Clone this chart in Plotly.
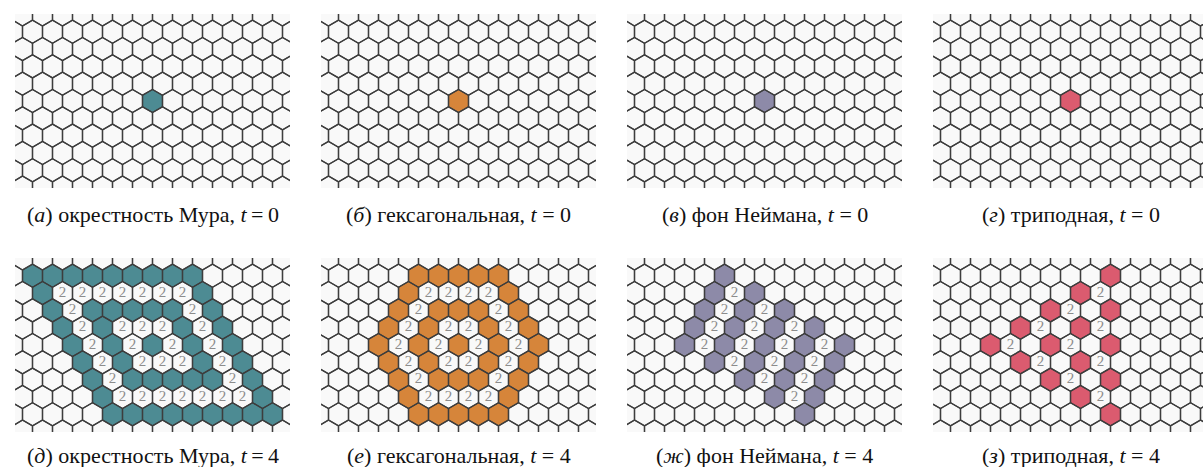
import numpy as np
import plotly.graph_objects as go

# ---- cell states, as (q, r): q = doubled column index, r = row (up is positive) ----
seed_cell = [(0, 0)]

moore_live = [
    (-12, 4), (-10, 4), (-8, 4), (-6, 4), (-4, 4), (-2, 4), (0, 4), (2, 4), (4, 4),
    (-11, 3), (5, 3),
    (-10, 2), (-6, 2), (-4, 2), (-2, 2), (0, 2), (2, 2), (6, 2),
    (-9, 1), (-5, 1), (3, 1), (7, 1),
    (-8, 0), (-4, 0), (0, 0), (4, 0), (8, 0),
    (-7, -1), (-3, -1), (5, -1), (9, -1),
    (-6, -2), (-2, -2), (0, -2), (2, -2), (4, -2), (6, -2), (10, -2),
    (-5, -3), (11, -3),
    (-4, -4), (-2, -4), (0, -4), (2, -4), (4, -4), (6, -4), (8, -4), (10, -4), (12, -4),
]
moore_two = [
    (-9, 3), (-7, 3), (-5, 3), (-3, 3), (-1, 3), (1, 3), (3, 3),
    (-8, 2), (4, 2),
    (-7, 1), (-3, 1), (-1, 1), (1, 1), (5, 1),
    (-6, 0), (-2, 0), (2, 0), (6, 0),
    (-5, -1), (-1, -1), (1, -1), (3, -1), (7, -1),
    (-4, -2), (8, -2),
    (-3, -3), (-1, -3), (1, -3), (3, -3), (5, -3), (7, -3), (9, -3),
]

hex_live = [
    (-4, 4), (-2, 4), (0, 4), (2, 4), (4, 4),
    (-5, 3), (5, 3),
    (-6, 2), (-2, 2), (0, 2), (2, 2), (6, 2),
    (-7, 1), (-3, 1), (3, 1), (7, 1),
    (-8, 0), (-4, 0), (0, 0), (4, 0), (8, 0),
    (-7, -1), (-3, -1), (3, -1), (7, -1),
    (-6, -2), (-2, -2), (0, -2), (2, -2), (6, -2),
    (-5, -3), (5, -3),
    (-4, -4), (-2, -4), (0, -4), (2, -4), (4, -4),
]
hex_two = [
    (-3, 3), (-1, 3), (1, 3), (3, 3),
    (-4, 2), (4, 2),
    (-5, 1), (-1, 1), (1, 1), (5, 1),
    (-6, 0), (-2, 0), (2, 0), (6, 0),
    (-5, -1), (-1, -1), (1, -1), (5, -1),
    (-4, -2), (4, -2),
    (-3, -3), (-1, -3), (1, -3), (3, -3),
]

neumann_live = [
    (-4, 4),
    (-5, 3), (-1, 3),
    (-6, 2), (-2, 2), (2, 2),
    (-7, 1), (-3, 1), (1, 1), (5, 1),
    (-8, 0), (-4, 0), (0, 0), (4, 0), (8, 0),
    (-5, -1), (-1, -1), (3, -1), (7, -1),
    (-2, -2), (2, -2), (6, -2),
    (1, -3), (5, -3),
    (4, -4),
]
neumann_two = [
    (-3, 3),
    (-4, 2), (0, 2),
    (-5, 1), (-1, 1), (3, 1),
    (-6, 0), (-2, 0), (2, 0), (6, 0),
    (-3, -1), (1, -1), (5, -1),
    (0, -2), (4, -2),
    (3, -3),
]

tripod_live = [
    (4, 4),
    (1, 3),
    (-2, 2), (4, 2),
    (-5, 1), (1, 1),
    (-8, 0), (-2, 0), (4, 0),
    (-5, -1), (1, -1),
    (-2, -2), (4, -2),
    (1, -3),
    (4, -4),
]
tripod_two = [
    (3, 3),
    (0, 2),
    (-3, 1), (3, 1),
    (-6, 0), (0, 0),
    (-3, -1), (3, -1),
    (0, -2),
    (3, -3),
]

captions_top = [
    "(<i>а</i>) окрестность Мура, <i>t</i>\u2009=\u20090",
    "(<i>б</i>) гексагональная, <i>t</i> = 0",
    "(<i>в</i>) фон Неймана, <i>t</i> = 0",
    "(<i>г</i>) триподная, <i>t</i> = 0",
]
captions_bottom = [
    "(<i>д</i>) окрестность Мура, <i>t</i>\u2009=\u20094",
    "(<i>е</i>) гексагональная, <i>t</i> = 4",
    "(<i>ж</i>) фон Неймана, <i>t</i> = 4",
    "(<i>з</i>) триподная, <i>t</i> = 4",
]
colors = ["#4d8b93", "#d6853a", "#8d8aa8", "#db5b6f"]

# ---- geometry ----
SQ3 = np.sqrt(3.0)
ROWS = range(-5, 6)
QMAX = 15
W, H = 1203, 467
PX = 20 / SQ3            # pixels per unit hex radius
PANEL_W, PANEL_H = 275, 174
LEFTS = [15, 321, 627, 933]
TOPS = [14, 258]
CAP_Y = [215, 455]


def centre(q, r):
    return q * SQ3 / 2, 1.5 * r


def hex_paths(cells):
    xs, ys = [], []
    ang = np.radians(np.arange(30, 391, 60))
    for q, r in cells:
        cx, cy = centre(q, r)
        xs.extend(list(cx + np.cos(ang)) + [None])
        ys.extend(list(cy + np.sin(ang)) + [None])
    return xs, ys


grid_cells = [(q, r) for r in ROWS for q in range(-QMAX, QMAX + 1) if (q - r) % 2 == 0]
gx, gy = hex_paths(grid_cells)

panels = [
    (0, 0, seed_cell, []), (0, 1, seed_cell, []), (0, 2, seed_cell, []), (0, 3, seed_cell, []),
    (1, 0, moore_live, moore_two), (1, 1, hex_live, hex_two),
    (1, 2, neumann_live, neumann_two), (1, 3, tripod_live, tripod_two),
]

fig = go.Figure()
layout = {}
annotations = []
for i, (row, col, live, two) in enumerate(panels, start=1):
    left = LEFTS[col]
    right = min(left + PANEL_W, W)
    top = TOPS[row]
    bottom = top + PANEL_H
    xa, ya = f"x{i}", f"y{i}"
    half_w = PANEL_W / 2 / PX
    layout[f"xaxis{i}"] = dict(domain=[left / W, right / W], anchor=ya,
                               range=[-half_w, -half_w + (right - left) / PX],
                               visible=False, fixedrange=True)
    layout[f"yaxis{i}"] = dict(domain=[1 - bottom / H, 1 - top / H], anchor=xa,
                               range=[-PANEL_H / 2 / PX, PANEL_H / 2 / PX],
                               visible=False, fixedrange=True)
    # light cell background
    bx = [-half_w, -half_w + (right - left) / PX, -half_w + (right - left) / PX, -half_w, -half_w]
    by = [-PANEL_H / 2 / PX, -PANEL_H / 2 / PX, PANEL_H / 2 / PX, PANEL_H / 2 / PX, -PANEL_H / 2 / PX]
    fig.add_trace(go.Scatter(x=bx, y=by, xaxis=xa, yaxis=ya, mode="lines", fill="toself",
                             fillcolor="#f9f9f9", line=dict(width=0), hoverinfo="skip",
                             showlegend=False))
    lx, ly = hex_paths(live)
    fig.add_trace(go.Scatter(x=lx, y=ly, xaxis=xa, yaxis=ya, mode="lines", fill="toself",
                             fillcolor=colors[col], line=dict(width=0), hoverinfo="skip",
                             showlegend=False))
    fig.add_trace(go.Scatter(x=gx, y=gy, xaxis=xa, yaxis=ya, mode="lines",
                             line=dict(color="#3d3d3d", width=1.3), hoverinfo="skip",
                             showlegend=False))
    if two:
        tx = [centre(q, r)[0] for q, r in two]
        ty = [centre(q, r)[1] for q, r in two]
        fig.add_trace(go.Scatter(x=tx, y=ty, xaxis=xa, yaxis=ya, mode="text",
                                 text=["2"] * len(two),
                                 textfont=dict(family="Liberation Serif", size=15, color="#8c8c8c"),
                                 hoverinfo="skip", showlegend=False, cliponaxis=True))
    cap = (captions_top if row == 0 else captions_bottom)[col]
    annotations.append(dict(text=cap, xref="paper", yref="paper",
                            x=(left + PANEL_W / 2) / W, y=1 - CAP_Y[row] / H,
                            xanchor="center", yanchor="middle", showarrow=False,
                            font=dict(family="Liberation Serif", size=22, color="#111111")))

fig.update_layout(width=W, height=H, margin=dict(l=0, r=0, t=0, b=0),
                  paper_bgcolor="white", plot_bgcolor="white",
                  annotations=annotations, **layout)
fig.write_html("out.html", config={"displayModeBar": False})
